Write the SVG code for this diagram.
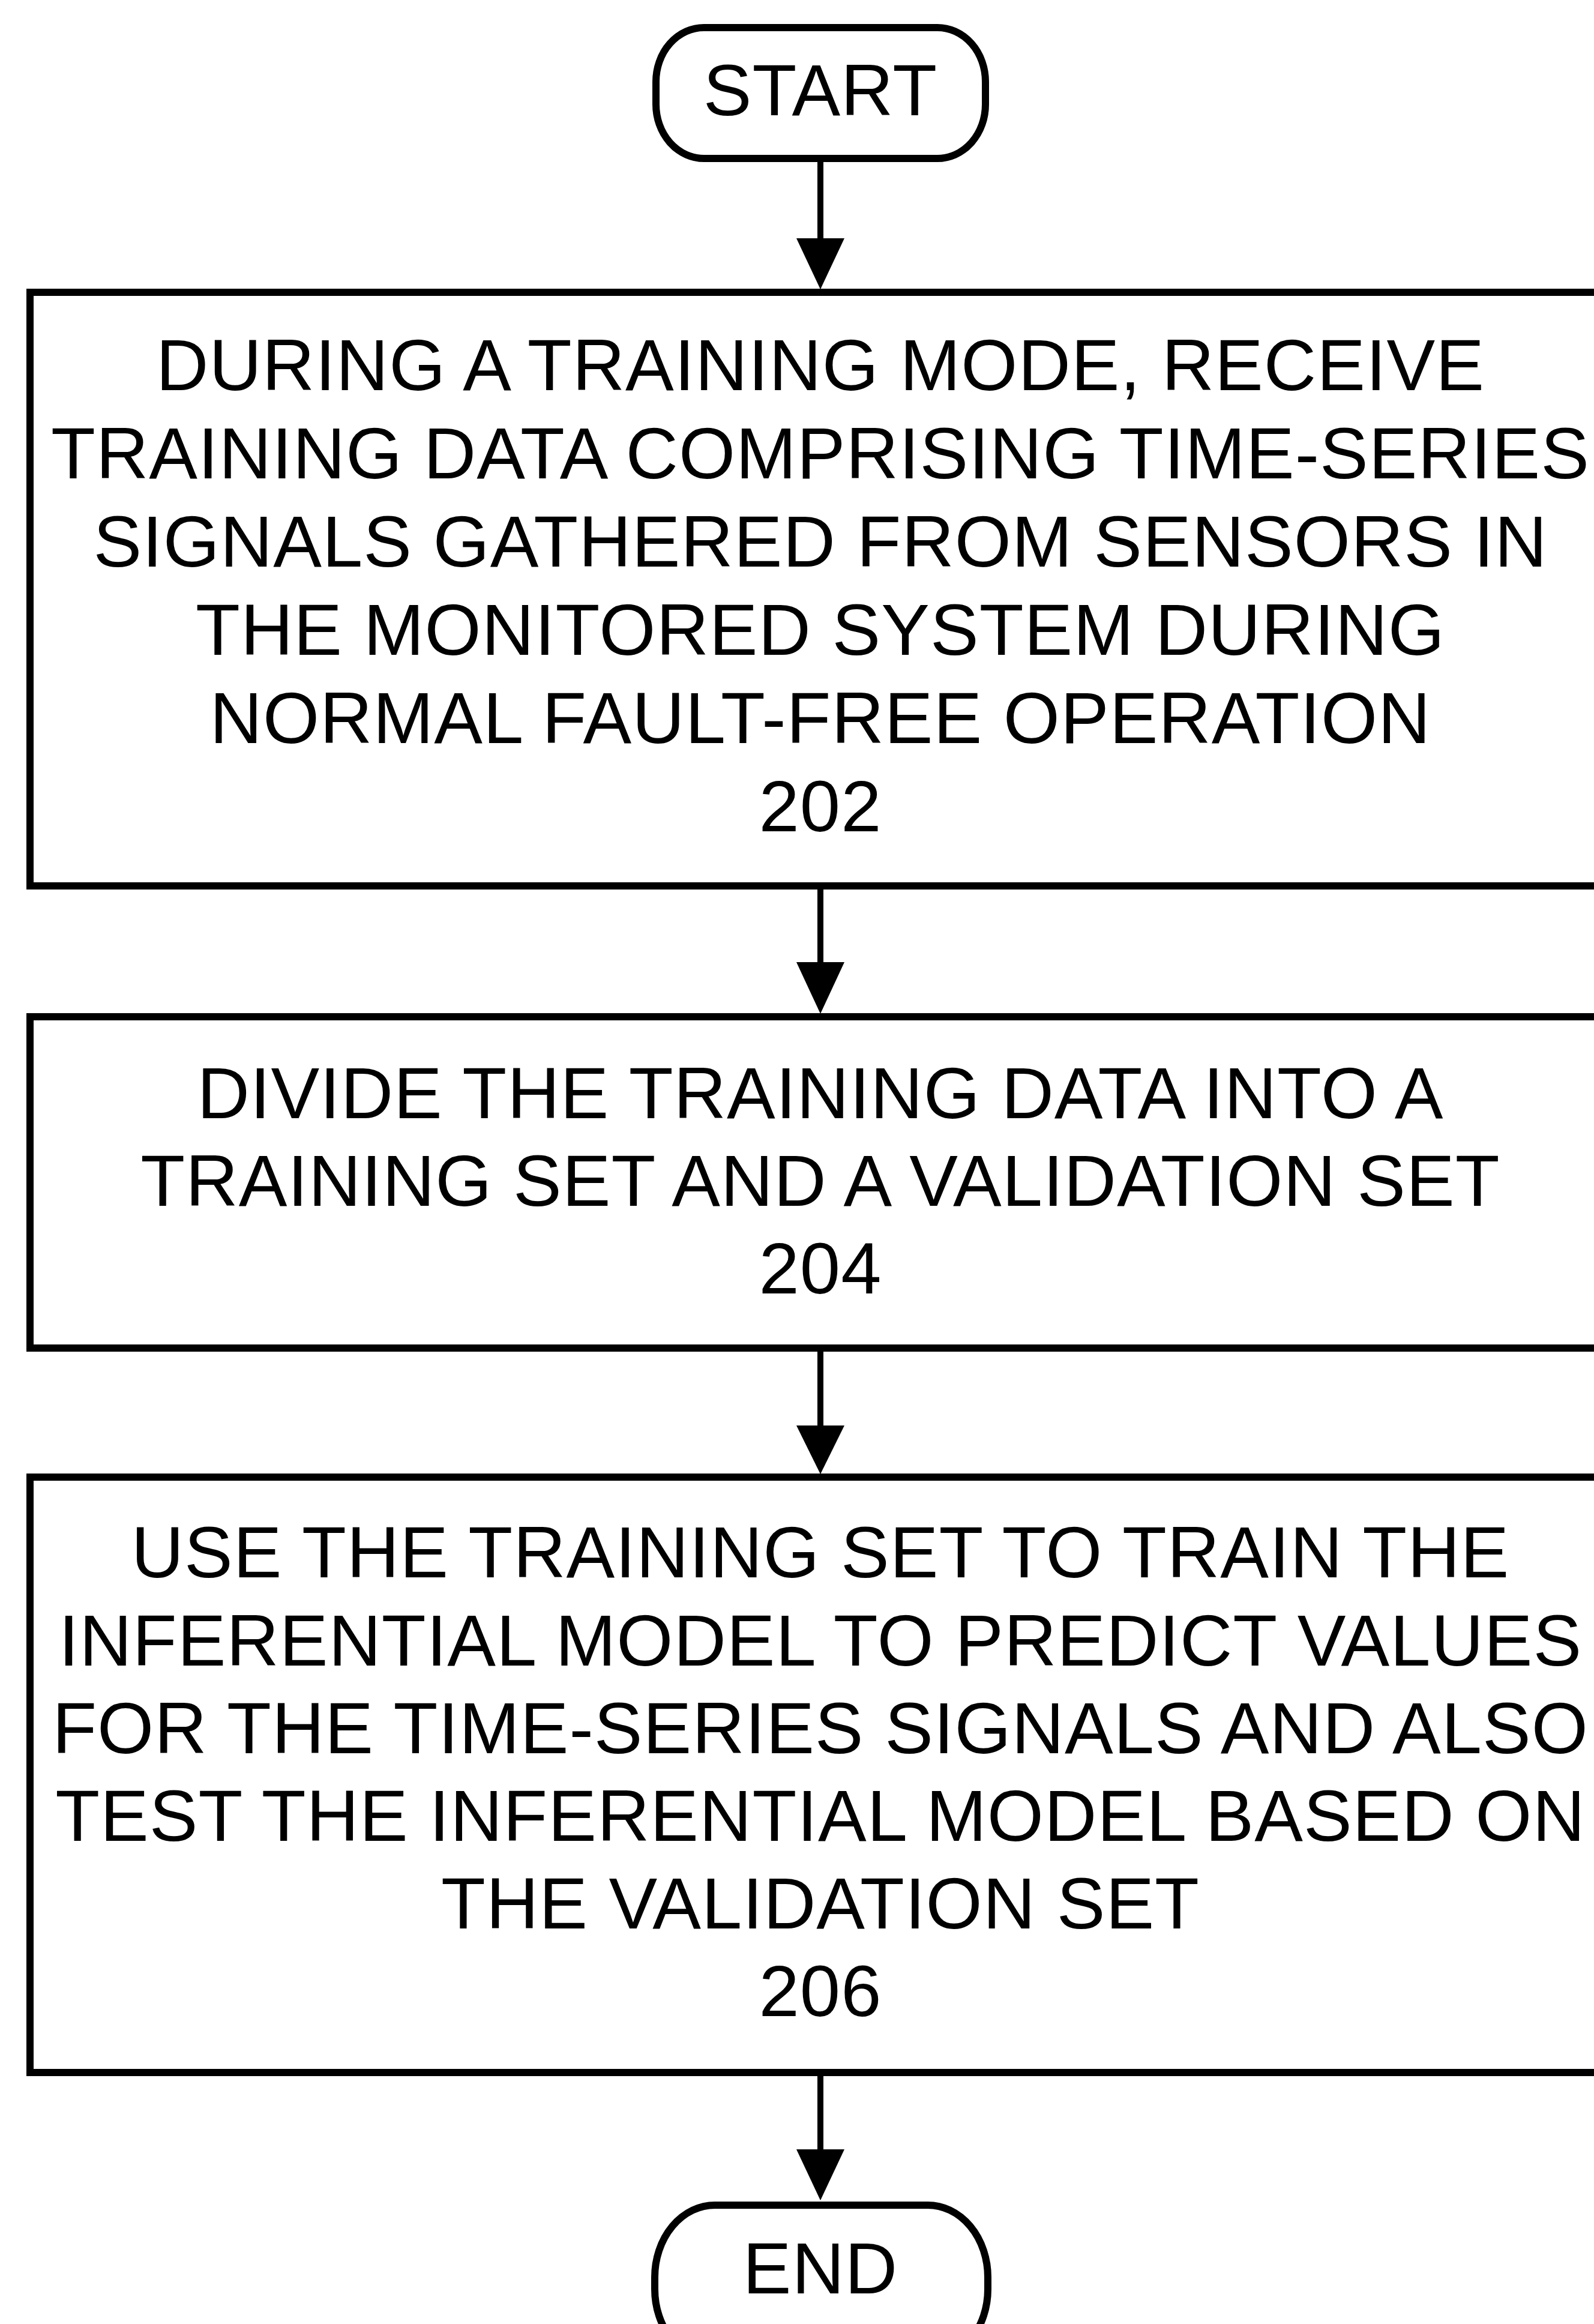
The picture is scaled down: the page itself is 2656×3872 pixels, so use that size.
<svg xmlns="http://www.w3.org/2000/svg" width="2656" height="3872" viewBox="0 0 2656 3872">
<defs>
<style>
.box{fill:#fff;stroke:#000;stroke-width:12}
.term{fill:#fff;stroke:#000;stroke-width:12}
.lbl{font-family:"Liberation Sans",Arial,sans-serif;font-size:121px;letter-spacing:1px;fill:#000;text-anchor:middle}
.conn{stroke:#000;stroke-width:10;fill:none}
.head{fill:#000;stroke:none}
</style>
</defs>
<rect width="2656" height="3872" fill="#fff"/>
<g id="connectors">
<line class="conn" x1="1367" y1="270" x2="1367" y2="400"/>
<polygon class="head" points="1327,397 1407,397 1367,482"/>
<line class="conn" x1="1367" y1="1476" x2="1367" y2="1606"/>
<polygon class="head" points="1327,1603 1407,1603 1367,1689"/>
<line class="conn" x1="1367" y1="2246" x2="1367" y2="2378"/>
<polygon class="head" points="1327,2375 1407,2375 1367,2456"/>
<line class="conn" x1="1367" y1="3453" x2="1367" y2="3584"/>
<polygon class="head" points="1327,3581 1407,3581 1367,3666"/>
</g>
<g id="start">
<rect class="term" x="1093" y="46" width="549" height="218" rx="80" ry="90"/>
<text class="lbl" x="1367" y="192">START</text>
</g>
<g id="n202">
<rect class="box" x="50" y="487" width="2634" height="989"/>
<text class="lbl" x="1367" y="650">DURING A TRAINING MODE, RECEIVE</text>
<text class="lbl" x="1367" y="797">TRAINING DATA COMPRISING TIME-SERIES</text>
<text class="lbl" x="1367" y="944">SIGNALS GATHERED FROM SENSORS IN</text>
<text class="lbl" x="1367" y="1091">THE MONITORED SYSTEM DURING</text>
<text class="lbl" x="1367" y="1238">NORMAL FAULT-FREE OPERATION</text>
<text class="lbl" x="1367" y="1385">202</text>
</g>
<g id="n204">
<rect class="box" x="50" y="1694" width="2634" height="552"/>
<text class="lbl" x="1367" y="1863">DIVIDE THE TRAINING DATA INTO A</text>
<text class="lbl" x="1367" y="2009">TRAINING SET AND A VALIDATION SET</text>
<text class="lbl" x="1367" y="2155">204</text>
</g>
<g id="n206">
<rect class="box" x="50" y="2461" width="2634" height="992"/>
<text class="lbl" x="1367" y="2628">USE THE TRAINING SET TO TRAIN THE</text>
<text class="lbl" x="1367" y="2775">INFERENTIAL MODEL TO PREDICT VALUES</text>
<text class="lbl" x="1367" y="2921">FOR THE TIME-SERIES SIGNALS AND ALSO</text>
<text class="lbl" x="1367" y="3067">TEST THE INFERENTIAL MODEL BASED ON</text>
<text class="lbl" x="1367" y="3213">THE VALIDATION SET</text>
<text class="lbl" x="1367" y="3359">206</text>
</g>
<g id="end">
<rect class="term" x="1091" y="3674" width="555" height="260" rx="100" ry="120"/>
<text class="lbl" x="1367" y="3821">END</text>
</g>
</svg>
